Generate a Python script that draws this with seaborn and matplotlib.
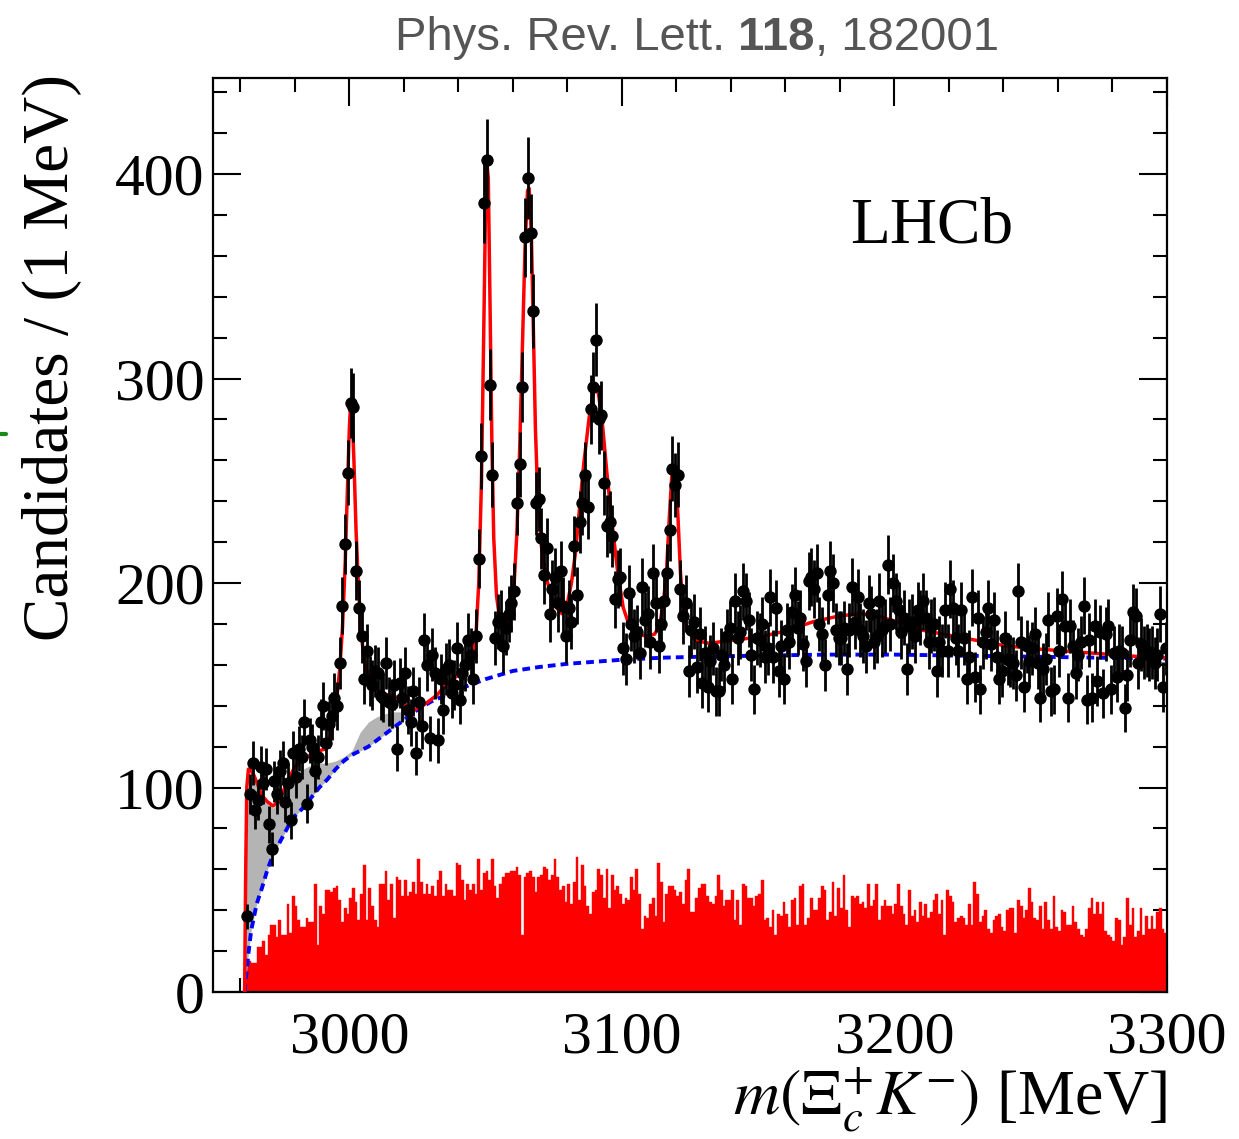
import numpy as np
import pandas as pd
import matplotlib
matplotlib.use("Agg")
import matplotlib.pyplot as plt
from matplotlib.lines import Line2D
from matplotlib.ticker import MultipleLocator
import seaborn as sns

# 1 MeV bins, threshold at m(Xi_c+) + m(K-)
first_edge = 2962
# right-sign candidates (Xi_c+ K-), one value per 1 MeV bin
counts_threshold = [37, 97, 112, 89, 94, 110, 102, 109, 82, 70,
                    103, 97, 108, 112, 93, 102, 84, 117, 105, 119,
                    115, 132, 92, 123, 120, 108, 115, 132, 140, 122,
                    131, 135, 144, 140, 161, 189, 219, 254, 288, 286,
                    206, 188, 174, 153, 167, 152, 150, 157, 156, 145,
                    144, 161, 142, 141, 150, 119, 151, 144, 156, 138]
counts_peaks = [132, 147, 117, 142, 130, 172, 160, 124, 165, 156,
                123, 153, 138, 158, 160, 146, 150, 168, 143, 156,
                160, 172, 165, 153, 174, 212, 262, 386, 407, 297,
                253, 173, 181, 183, 169, 178, 185, 190, 196, 239,
                258, 296, 369, 398, 371, 333, 239, 241, 222, 204,
                217, 185, 197, 203, 190, 206, 189, 174, 188, 181,
                218, 194, 230, 239, 253, 237, 285, 296, 319, 280,
                282, 249, 228, 230, 223, 192, 202, 203, 168, 163,
                195, 180, 174, 176, 166, 198, 182, 185, 171, 205,
                190, 169, 180, 191, 205, 226, 256, 248, 253, 197,
                184, 190, 157, 177, 181, 159, 175, 151, 166, 149]
counts_high = [162, 168, 147, 147, 165, 160, 174, 178, 153, 191,
               173, 176, 196, 191, 182, 165, 148, 173, 172, 180,
               164, 168, 193, 164, 188, 157, 169, 153, 177, 171,
               186, 194, 178, 183, 170, 162, 201, 203, 197, 205,
               180, 175, 160, 194, 206, 200, 177, 173, 173, 178,
               158, 177, 198, 181, 193, 177, 174, 169, 190, 185,
               171, 174, 191, 177, 179, 209, 180, 200, 191, 187,
               176, 183, 158, 179, 181, 174, 187, 183, 191, 183,
               171, 179, 180, 157, 171, 167, 187, 167, 197, 188,
               173, 167, 187, 173, 153, 164, 193, 154, 183, 148,
               171, 176, 188, 170, 182, 164, 153, 157, 173, 163,
               162, 161, 155, 196, 171, 149, 169, 162, 168, 175,
               161, 144, 158, 163, 182, 147, 148, 184, 167, 192,
               179, 144, 179, 169, 156, 165, 171, 189, 143, 172,
               144, 179, 152, 176, 146, 175, 179, 148, 166, 154,
               167, 166, 139, 155, 172, 186, 184, 161, 170, 166,
               167, 165, 166, 161, 165, 185, 149, 168]

# wrong-sign candidates (Xi_c+ K+), same binning
ws_low = [12, 15, 14, 14, 22, 22, 25, 18, 28, 33,
          33, 27, 35, 28, 28, 43, 29, 47, 42, 35,
          32, 32, 36, 34, 34, 53, 23, 42, 38, 50,
          50, 49, 51, 52, 45, 34, 41, 38, 46, 51,
          44, 35, 48, 62, 35, 51, 42, 35, 32, 53,
          53, 59, 45, 53, 36, 56, 55, 47, 55, 47,
          49, 54, 48, 65, 54, 48, 53, 48, 52, 47,
          55, 59, 47, 53, 50, 50, 47, 63, 62, 55,
          45, 53, 50, 53, 48, 65, 50, 58, 59, 55,
          65, 52, 46, 53, 56, 58, 58, 59, 59, 61,
          57, 28, 56, 58, 59, 56, 49, 56, 57, 61]
ws_mid = [60, 55, 57, 65, 56, 50, 52, 44, 53, 43,
          54, 66, 45, 62, 52, 42, 38, 49, 50, 60,
          57, 46, 60, 41, 57, 50, 52, 48, 43, 46,
          45, 56, 50, 60, 48, 31, 37, 36, 43, 46,
          37, 63, 54, 34, 48, 52, 52, 50, 47, 49,
          43, 55, 60, 39, 39, 46, 51, 53, 53, 47,
          44, 43, 47, 57, 50, 42, 45, 45, 50, 35,
          45, 33, 53, 52, 46, 46, 42, 47, 48, 55,
          35, 36, 32, 40, 28, 38, 37, 44, 38, 32,
          45, 46, 33, 52, 53, 33, 36, 46, 40, 40,
          46, 52, 50, 35, 39, 54, 37, 51, 41, 57,
          40, 32, 47, 46]
ws_high = [47, 43, 44, 41, 53, 42, 45, 53, 35, 42,
           45, 42, 42, 38, 43, 53, 42, 38, 33, 50,
           37, 40, 34, 44, 37, 43, 36, 39, 45, 48,
           38, 45, 28, 50, 47, 44, 34, 36, 37, 36,
           33, 43, 33, 54, 48, 34, 37, 40, 31, 29,
           35, 37, 38, 32, 30, 40, 41, 41, 29, 45,
           42, 36, 40, 51, 44, 36, 35, 42, 31, 44,
           35, 31, 47, 32, 30, 40, 39, 33, 33, 42,
           34, 31, 28, 27, 31, 41, 46, 38, 44, 38,
           44, 30, 28, 27, 25, 36, 35, 23, 27, 46,
           33, 41, 27, 30, 41, 28, 37, 31, 37, 31,
           39, 41, 31, 29]

# total fit (red line)
fit_mass = [2961.6, 2962.0, 2962.4, 2963.0, 2964, 2965, 2966.5, 2968, 2970, 2972,
            2974, 2976, 2978, 2980, 2983, 2986, 2989, 2991.5, 2993, 2994.5,
            2995.5, 2996.5, 2997.5, 2998.5, 2999.3, 3000, 3000.5, 3001, 3001.7, 3002.5,
            3003.5, 3004.5, 3005.5, 3007, 3009, 3012, 3015, 3018, 3021, 3024,
            3028, 3032, 3036, 3040, 3043, 3045, 3046.5, 3047.5, 3048.5, 3049.3,
            3050, 3050.5, 3051, 3051.6, 3052.3, 3053, 3054, 3055, 3056.5, 3058,
            3059.5, 3060.5, 3061.5, 3062.5, 3063.5, 3064.5, 3065.4, 3066, 3066.8, 3067.6,
            3068.3, 3069.2, 3070.5, 3072, 3074, 3076, 3078, 3080, 3081.5, 3083,
            3084.5, 3086, 3088, 3089.5, 3090.5, 3091.5, 3093, 3094.5, 3096.5, 3098.5,
            3100.5, 3103, 3106, 3109, 3112, 3113.8, 3115.2, 3116.4, 3117.4, 3118.3,
            3119, 3119.8, 3120.6, 3121.5, 3122.5, 3124, 3127, 3132, 3140, 3150,
            3160, 3170, 3180, 3188, 3195, 3202, 3210, 3220, 3230, 3240,
            3250, 3260, 3270, 3280, 3290, 3300]
fit_total = [0, 60, 100, 109, 108, 106, 101, 96, 93, 91,
             93, 99, 105, 110, 114, 116, 118, 119, 124, 135,
             145, 158, 178, 210, 245, 275, 288, 285, 260, 225,
             195, 174, 162, 154, 149, 146, 145, 144, 140, 138,
             141, 145, 151, 155, 158, 163, 175, 200, 250, 320,
             385, 405, 398, 340, 270, 222, 194, 184, 180, 181,
             188, 200, 225, 265, 315, 365, 392, 393, 370, 320,
             275, 240, 218, 204, 194, 188, 185, 190, 200, 215,
             237, 258, 281, 293, 296, 292, 276, 254, 228, 205,
             188, 178, 175, 174, 175, 179, 190, 206, 232, 252,
             257, 252, 232, 205, 188, 177, 172, 170.5, 172, 173.5,
             176.5, 181, 184, 185, 183.5, 180.5, 177, 174.5, 172, 169.5,
             168, 167, 166, 165, 164, 163.5]

# background (blue dashed) and feed-down from partially reconstructed states (grey)
bkg_mass = [2961.6, 2962, 2962.5, 2963, 2964, 2966, 2968, 2970, 2972, 2974,
            2976, 2978, 2980, 2983, 2986, 2989, 2992, 2995, 2998, 3001,
            3004, 3007, 3010, 3013, 3016, 3019, 3022, 3025, 3030, 3040,
            3050, 3060, 3070, 3080, 3090, 3100, 3115, 3130, 3150, 3175,
            3200, 3225, 3250, 3275, 3300]
bkg_vals = [0, 6, 12, 19, 30, 43, 51, 60, 67, 72,
            77, 82, 86, 90, 95, 100, 104, 109, 113, 116,
            118, 120, 123, 126, 129, 132, 135, 138, 142, 148,
            153, 157, 159, 160.5, 161.5, 162.5, 163.5, 164, 164.5, 165,
            165, 164.5, 164, 163.5, 163]
feed_top = [0, 50, 85, 104, 105, 101, 96, 92, 90, 92,
            97, 102, 106, 109, 111, 112, 112, 113, 115, 118,
            127, 132, 134.5, 136, 137, 137, 136, 138]

edges = list(range(first_edge, first_edge + len(counts_threshold) + len(counts_peaks) + len(counts_high) + 1))
centers = np.array(edges[:-1]) + 0.5
counts = np.array(counts_threshold + counts_peaks + counts_high, dtype=float)
ws = pd.DataFrame({"mass": centers, "n": ws_low + ws_mid + ws_high})

sns.set_style("ticks")
plt.rcParams["font.family"] = ["Liberation Serif", "DejaVu Serif"]
plt.rcParams["mathtext.fontset"] = "stix"
plt.rcParams["text.color"] = "black"
plt.rcParams["axes.labelcolor"] = "black"
plt.rcParams["xtick.color"] = "black"
plt.rcParams["ytick.color"] = "black"

fig = plt.figure(figsize=(12.39, 11.39), dpi=100)
ax = fig.add_axes([213 / 1239, 1 - 992 / 1139, 954 / 1239, 914 / 1139])

sns.histplot(data=ws, x="mass", weights="n", bins=edges, color="#ff0000", alpha=1,
             edgecolor="#ff0000", linewidth=0.3, ax=ax, zorder=1)

n_feed = len(feed_top)
ax.fill_between(bkg_mass[:n_feed], bkg_vals[:n_feed], feed_top, color="#b4b4b4", lw=0, zorder=2)
sns.lineplot(x=bkg_mass, y=bkg_vals, ax=ax, color="#0000ff", lw=2.8, linestyle=(0, (2.0, 1.3)),
             sort=False, estimator=None, zorder=3)
sns.lineplot(x=fit_mass, y=fit_total, ax=ax, color="#ff0000", lw=2.5,
             sort=False, estimator=None, zorder=3)

ax.errorbar(centers, counts, yerr=np.sqrt(counts), fmt="none", ecolor="black",
            elinewidth=2.0, capsize=0, zorder=4)
sns.scatterplot(x=centers, y=counts, ax=ax, color="black", s=80, edgecolor="black",
                linewidth=0, zorder=5)

ax.set_xlim(2950, 3300)
ax.set_ylim(0, 447)
ax.xaxis.set_major_locator(MultipleLocator(100))
ax.xaxis.set_minor_locator(MultipleLocator(20))
ax.yaxis.set_major_locator(MultipleLocator(100))
ax.yaxis.set_minor_locator(MultipleLocator(20))
ax.tick_params(which="both", direction="in", top=True, right=True, width=1.5, color="black")
ax.tick_params(which="major", length=20, labelsize=43, labelcolor="black")
ax.tick_params(which="minor", length=10)
ax.tick_params(axis="x", which="major", pad=14)
ax.tick_params(axis="y", which="major", pad=6)
for sp in ax.spines.values():
    sp.set_linewidth(1.6)
    sp.set_color("black")

ax.set_ylabel("Candidates / (1 MeV)", fontsize=47, loc="top", color="black")
ax.yaxis.set_label_coords(-0.137, 1.004)
ax.set_xlabel(r"$m(\Xi_c^{+}K^{-})$ [MeV]", fontsize=46, loc="right", color="black")
ax.xaxis.set_label_coords(1.0, -0.08)

ax.text(0.668, 0.8195, "LHCb", transform=ax.transAxes, fontsize=47, va="baseline", color="black")

sans = ["Liberation Sans", "DejaVu Sans"]
t1 = fig.text(395 / 1239, 1 - 50 / 1139, "Phys. Rev. Lett. ", fontsize=34, color="#555555",
              family=sans, va="baseline")
t2 = ax.annotate("118", xy=(1, 0), xycoords=t1, fontsize=34, color="#555555",
                 family=sans, weight="bold", va="bottom", annotation_clip=False)
t3 = ax.annotate(", 182001", xy=(1, 0), xycoords=t2, fontsize=34, color="#555555",
                 family=sans, va="bottom", annotation_clip=False)

fig.add_artist(Line2D([0, 0.0045], [1 - 434 / 1139, 1 - 434 / 1139], color="#1a8a1a", lw=3))

fig.savefig("out.png", dpi=100)
